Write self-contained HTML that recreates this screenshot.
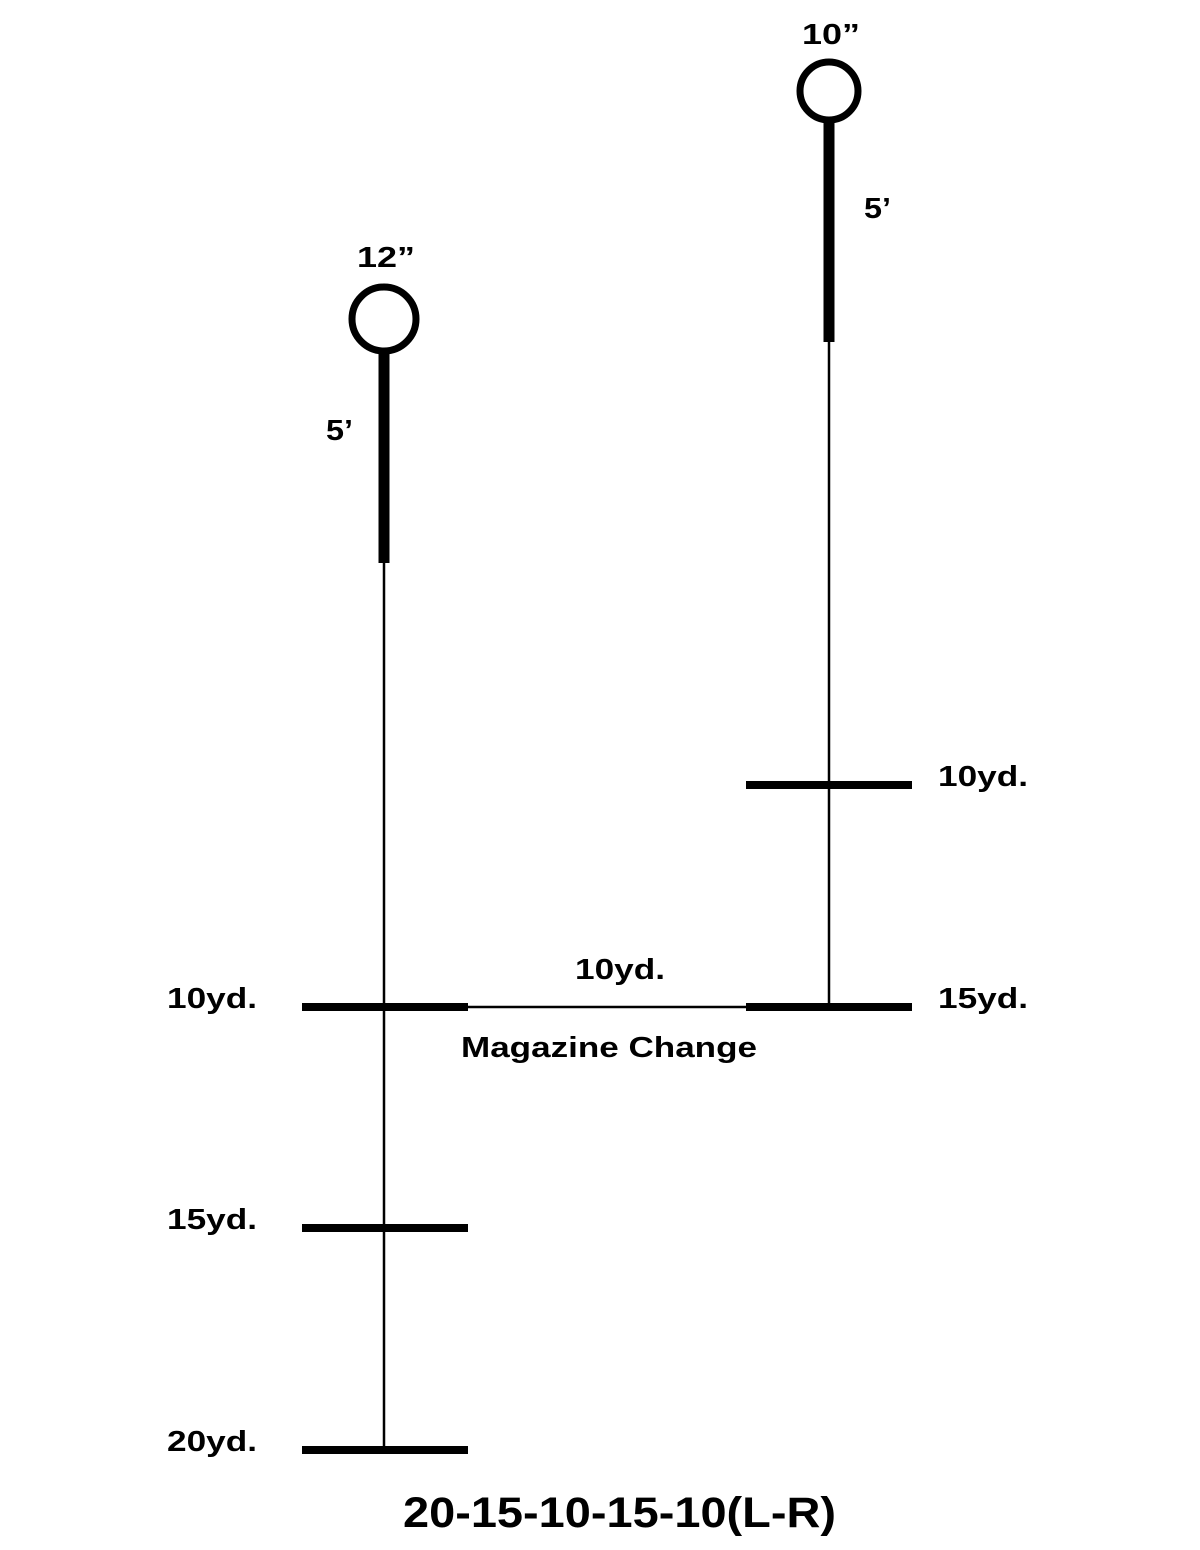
<!DOCTYPE html>
<html><head><meta charset="utf-8"><style>
html,body{margin:0;padding:0;background:#fff}
svg{display:block}
text{font-family:"Liberation Sans",Arial,sans-serif;font-weight:bold;fill:#000}
</style></head><body>
<svg width="1200" height="1550" viewBox="0 0 1200 1550" xmlns="http://www.w3.org/2000/svg">
<g stroke="#000" fill="none">
<circle cx="384" cy="319" r="32" stroke-width="7" fill="#fff"/>
<line x1="384" y1="350" x2="384" y2="563" stroke-width="11"/>
<line x1="384" y1="560" x2="384" y2="1450" stroke-width="2.5"/>
<line x1="302" y1="1007" x2="468" y2="1007" stroke-width="8"/>
<line x1="302" y1="1228" x2="468" y2="1228" stroke-width="8"/>
<line x1="302" y1="1450" x2="468" y2="1450" stroke-width="8"/>
<circle cx="829" cy="91" r="29" stroke-width="7" fill="#fff"/>
<line x1="829" y1="119" x2="829" y2="342" stroke-width="11"/>
<line x1="829" y1="340" x2="829" y2="1005" stroke-width="2.5"/>
<line x1="746" y1="785" x2="912" y2="785" stroke-width="8"/>
<line x1="746" y1="1007" x2="912" y2="1007" stroke-width="8"/>
<line x1="468" y1="1007" x2="746" y2="1007" stroke-width="2.5"/>
</g>
<g font-size="29" lengthAdjust="spacingAndGlyphs">
<text x="802" y="44" textLength="58" lengthAdjust="spacingAndGlyphs">10”</text>
<text x="864" y="218" textLength="27" lengthAdjust="spacingAndGlyphs">5’</text>
<text x="357" y="267" textLength="58" lengthAdjust="spacingAndGlyphs">12”</text>
<text x="326" y="440" textLength="27" lengthAdjust="spacingAndGlyphs">5’</text>
<text x="938" y="786" textLength="90" lengthAdjust="spacingAndGlyphs">10yd.</text>
<text x="938" y="1008" textLength="90" lengthAdjust="spacingAndGlyphs">15yd.</text>
<text x="167" y="1008" textLength="90" lengthAdjust="spacingAndGlyphs">10yd.</text>
<text x="167" y="1229" textLength="90" lengthAdjust="spacingAndGlyphs">15yd.</text>
<text x="167" y="1451" textLength="90" lengthAdjust="spacingAndGlyphs">20yd.</text>
<text x="575" y="979" textLength="90" lengthAdjust="spacingAndGlyphs">10yd.</text>
<text x="461" y="1057" textLength="296" lengthAdjust="spacingAndGlyphs">Magazine Change</text>
</g>
<text x="403" y="1527" font-size="43" textLength="433" lengthAdjust="spacingAndGlyphs">20-15-10-15-10(L-R)</text>
</svg>
</body></html>
